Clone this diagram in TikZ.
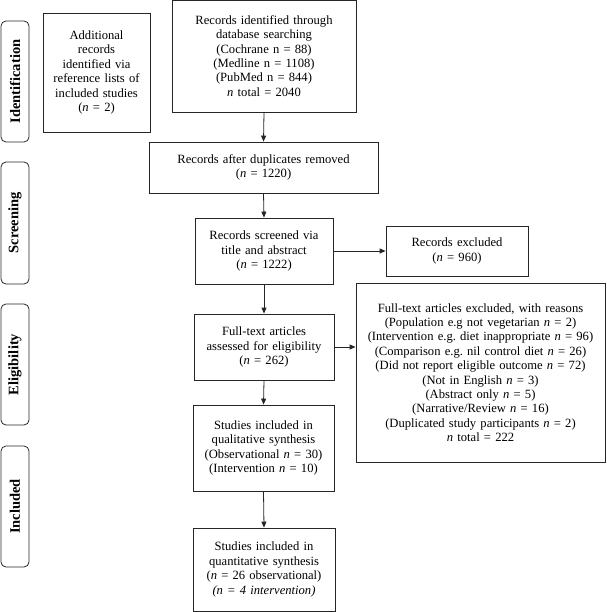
\documentclass[tikz,border=0pt]{standalone}
\usepackage{fontspec}
\setmainfont{Liberation Serif}
\usetikzlibrary{arrows.meta}
\frenchspacing
\begin{document}
\begin{tikzpicture}[x=1pt,y=-1pt,
  box/.style={draw=black!85,line width=0.8pt,align=center,inner sep=0pt,
    font=\fontsize{12.6}{14.4}\selectfont},
  side/.style={draw=black!85,line width=0.8pt,rounded corners=5pt,rotate=90,
    minimum height=28pt,inner sep=0pt,font=\bfseries\fontsize{14.5}{16}\selectfont},
  arr/.style={-{Triangle[length=6pt,width=5pt]},line width=0.8pt,black!85}]
\useasboundingbox (0,0) rectangle (606,612);

% side labels
\node[side,minimum width=121pt] (sid) at (15,81.5) {Identification};
\node[side,minimum width=122pt] (sscr) at (15,223) {Screening};
\node[side,minimum width=121pt] (selig) at (15,364.5) {Eligibility};
\node[side,minimum width=121pt] (sinc) at (15,506.5) {Included};

% boxes
\node[box,text width=107pt,minimum height=119pt] (add) at (96.5,72.5)
  {Additional\\records\\identified via\\reference lists of\\included studies\\(\textit{n} = 2)};
\node[box,text width=184pt,minimum height=112pt] (recid) at (264,56)
  {Records identified through\\database searching\\(Cochrane n = 88)\\(Medline n = 1108)\\(PubMed n = 844)\\\textit{n} total = 2040};
\node[box,text width=229pt,minimum height=51pt] (recdup) at (263.5,167.5)
  {Records after duplicates removed\\(\textit{n} = 1220)};
\node[box,text width=138pt,minimum height=66pt] (screen) at (264,251)
  {Records screened via\\title and abstract\\(\textit{n} = 1222)};
\node[box,text width=142pt,minimum height=50pt] (exc) at (457,251)
  {Records excluded\\(\textit{n} = 960)};
\node[box,text width=140pt,minimum height=66pt] (assess) at (264,347)
  {Full-text articles\\assessed for eligibility\\(\textit{n} = 262)};
\node[box,text width=249pt,minimum height=179pt] (exc2) at (480.5,372.5)
  {Full-text articles excluded, with reasons\\
   (Population e.g not vegetarian \textit{n} = 2)\\
   (Intervention e.g. diet inappropriate \textit{n} = 96)\\
   (Comparison e.g. nil control diet \textit{n} = 26)\\
   (Did not report eligible outcome \textit{n} = 72)\\
   (Not in English \textit{n} = 3)\\
   (Abstract only \textit{n} = 5)\\
   (Narrative/Review \textit{n} = 16)\\
   (Duplicated study participants \textit{n} = 2)\\
   \textit{n} total = 222\par\vspace*{10pt}};
\node[box,text width=141pt,minimum height=86pt] (qual) at (263.5,448)
  {Studies included in\\qualitative synthesis\\(Observational \textit{n} = 30)\\(Intervention \textit{n} = 10)\par\vspace*{4pt}};
\node[box,text width=142pt,minimum height=83pt] (quant) at (264,569.5)
  {Studies included in\\quantitative synthesis\\(\textit{n} = 26 observational)\\\textit{(n = 4 intervention)}\par\vspace*{4pt}};

% connectors
\draw[arr] (recid.south) -- (recdup.north);
\draw[arr] (recdup.south) -- (screen.north);
\draw[arr] (screen.east) -- (exc.west);
\draw[arr] (screen.south) -- (assess.north);
\draw[arr] (assess.east) -- (assess.east -| exc2.west);
\draw[arr] (assess.south) -- (qual.north);
\draw[arr] (qual.south) -- (quant.north);
\end{tikzpicture}
\end{document}
